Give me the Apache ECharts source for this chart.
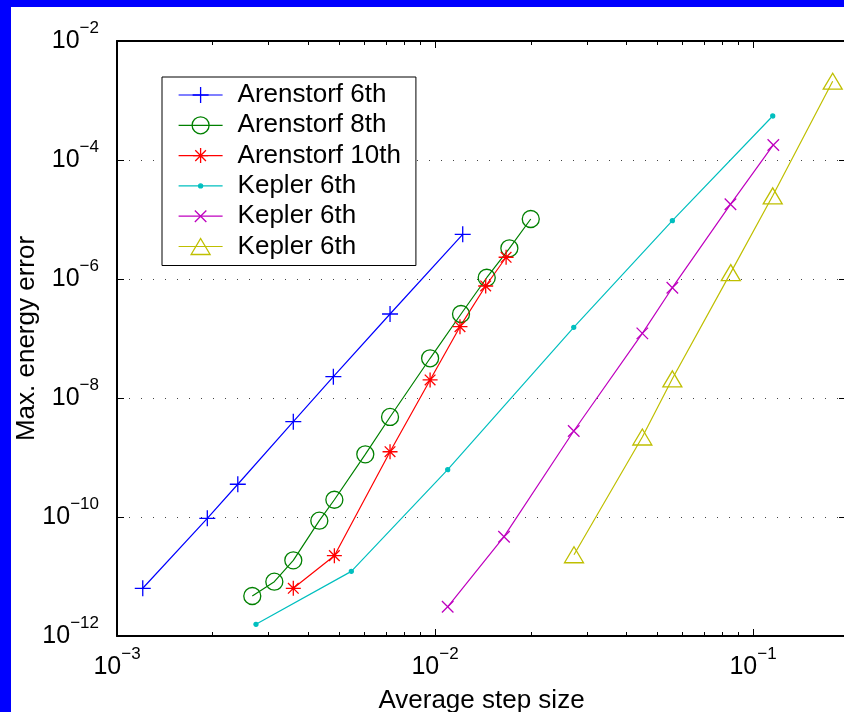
<!DOCTYPE html>
<html>
<head>
<meta charset="utf-8">
<script src="https://cdn.jsdelivr.net/npm/echarts@6/dist/echarts.min.js"></script>
<style>
  html, body { margin: 0; padding: 0; }
  #wrap { position: relative; width: 844px; height: 712px; background: #0000ff; overflow: hidden; }
  #paper { position: absolute; left: 11px; top: 7px; right: 0; bottom: 0; background: #fff; }
  #chart { position: absolute; left: 0; top: 0; width: 844px; height: 712px; }
</style>
</head>
<body>
<div id="wrap">
  <div id="paper"></div>
  <div id="chart"></div>
</div>
<script>
// step size / energy error pairs
const arenstorf6X = [1.205e-3, 1.923e-3, 2.398e-3, 3.584e-3, 4.79e-3, 7.22e-3, 1.222e-2];
const arenstorf6Y = [6.34e-12, 9.5e-11, 3.55e-10, 4.0e-9, 2.28e-8, 2.58e-7, 5.64e-6];

const arenstorf8X = [2.663e-3, 3.124e-3, 3.584e-3, 4.327e-3, 4.825e-3, 6.036e-3, 7.22e-3, 9.65e-3, 1.207e-2, 1.454e-2, 1.713e-2, 2.0e-2];
const arenstorf8Y = [4.7e-12, 8.18e-12, 1.87e-11, 8.67e-11, 1.95e-10, 1.13e-9, 4.8e-9, 4.65e-8, 2.58e-7, 1.05e-6, 3.28e-6, 1.02e-5];

const arenstorf10X = [3.584e-3, 4.825e-3, 7.22e-3, 9.65e-3, 1.198e-2, 1.443e-2, 1.673e-2];
const arenstorf10Y = [6.34e-12, 2.24e-11, 1.25e-9, 2.01e-8, 1.58e-7, 7.63e-7, 2.32e-6];

const keplerDotX = [2.735e-3, 5.455e-3, 1.096e-2, 2.73e-2, 5.575e-2, 0.1153];
const keplerDotY = [1.57e-12, 1.22e-11, 6.24e-10, 1.54e-7, 9.55e-6, 5.49e-4];

const keplerCrossX = [1.096e-2, 1.648e-2, 2.73e-2, 4.486e-2, 5.575e-2, 8.49e-2, 0.1158];
const keplerCrossY = [3.1e-12, 4.67e-11, 2.79e-9, 1.22e-7, 7.14e-7, 1.8e-5, 1.79e-4];

const keplerTriX = [2.735e-2, 4.486e-2, 5.575e-2, 8.51e-2, 0.1153, 0.178];
const keplerTriY = [2.32e-11, 2.21e-9, 2.1e-8, 1.28e-6, 2.5e-5, 2.11e-3];

// legend text (three Kepler entries share one label, so keys carry a suffix)
const seriesNames = ['Arenstorf 6th', 'Arenstorf 8th', 'Arenstorf 10th', 'Kepler 6th|a', 'Kepler 6th|b', 'Kepler 6th|c'];

// ticks
const xMajorTicks = [1e-3, 1e-2, 1e-1];
const xMinorTicks = [2e-3, 3e-3, 4e-3, 5e-3, 6e-3, 7e-3, 8e-3, 9e-3,
  2e-2, 3e-2, 4e-2, 5e-2, 6e-2, 7e-2, 8e-2, 9e-2];

const FONT = "'Liberation Sans', Arial, Helvetica, sans-serif";
const X_MIN = 1e-3, X_MAX = 0.196;
const Y_MIN = 1e-12, Y_MAX = 1e-2;

// marker shapes in a 24x24 box (corner moves keep every box the same size)
const SYM = {
  plus: 'path://M0,0M24,24M2.4,12L21.6,12M12,2.4L12,21.6',
  circle: 'path://M0,0M24,24M1.8,12A10.2,10.2,0,1,0,22.2,12A10.2,10.2,0,1,0,1.8,12Z',
  star: 'path://M0,0M24,24M3,12L21,12M12,3L12,21M5.6,5.6L18.4,18.4M18.4,5.6L5.6,18.4',
  dot: 'path://M0,0M24,24M9.6,12A2.4,2.4,0,1,0,14.4,12A2.4,2.4,0,1,0,9.6,12Z',
  cross: 'path://M0,0M24,24M5.1,5.1L18.9,18.9M18.9,5.1L5.1,18.9',
  tri: 'path://M0,0M24,24M0.6,21.6L23.4,21.6L12,2.4Z'
};

function zip(xs, ys) {
  return xs.map((x, i) => [x, ys[i]]);
}

function powLabel(v) {
  const e = Math.log10(v);
  const r = Math.round(e);
  if (Math.abs(e - r) > 1e-6) return '';
  return '{b|10}{s|' + (r < 0 ? '\u2212' : '') + Math.abs(r) + '}';
}

const labelRich = {
  b: { fontSize: 25, fontFamily: FONT, color: '#000' },
  s: { fontSize: 17, fontFamily: FONT, color: '#000', padding: [0, 0, 26, 0] }
};

function makeSeries(name, xs, ys, color, symbol, filled) {
  return {
    name: name,
    type: 'line',
    xAxisIndex: 0,
    yAxisIndex: 0,
    data: zip(xs, ys),
    symbol: symbol,
    symbolSize: 20,
    showSymbol: true,
    lineStyle: { color: color, width: 1.2 },
    itemStyle: { color: filled ? color : 'rgba(0,0,0,0)', borderColor: color, borderWidth: 1.3 },
    emphasis: { disabled: true },
    animation: false
  };
}

const chart = echarts.init(document.getElementById('chart'), null, { renderer: 'canvas' });

const gridBox = { left: 117, top: 41, width: 729, height: 595, containLabel: false, outerBoundsMode: 'none' };
const blackLine = { show: true, onZero: false, lineStyle: { color: '#000', width: 2 } };

const option = {
  backgroundColor: 'transparent',
  animation: false,
  grid: [Object.assign({}, gridBox), Object.assign({}, gridBox)],
  legend: {
    orient: 'vertical',
    left: 162,
    top: 77,
    padding: [5, 15, 6, 16],
    itemWidth: 44,
    itemHeight: 25,
    itemGap: 4.3,
    backgroundColor: '#fff',
    borderColor: '#000',
    borderWidth: 1,
    borderRadius: 0,
    selectedMode: false,
    data: seriesNames,
    formatter: name => name.split('|')[0],
    textStyle: { fontSize: 26, lineHeight: 26, fontFamily: FONT, color: '#000', padding: [0, 0, 0, 10] },
    lineStyle: { width: 1.2 },
    itemStyle: { borderWidth: 1.3 }
  },
  xAxis: [
    {
      gridIndex: 0, type: 'log', position: 'bottom', min: X_MIN, max: X_MAX,
      name: 'Average step size', nameLocation: 'middle', nameGap: 52, nameMoveOverlap: false,
      nameTextStyle: { fontSize: 26, fontFamily: FONT, color: '#000' },
      axisLine: blackLine,
      axisTick: { show: true, inside: true, length: 7, customValues: xMajorTicks, lineStyle: { color: '#000', width: 1 } },
      axisLabel: { show: true, customValues: xMajorTicks, formatter: powLabel, rich: labelRich, margin: 10 },
      splitLine: { show: false }
    },
    {
      gridIndex: 0, type: 'log', position: 'top', min: X_MIN, max: X_MAX,
      axisLine: blackLine,
      axisTick: { show: true, inside: true, length: 7, customValues: xMajorTicks, lineStyle: { color: '#000', width: 1 } },
      axisLabel: { show: false },
      splitLine: { show: false }
    },
    {
      gridIndex: 1, type: 'log', position: 'bottom', min: X_MIN, max: X_MAX,
      axisLine: { show: false },
      axisTick: { show: true, inside: true, length: 4, customValues: xMinorTicks, lineStyle: { color: '#000', width: 1 } },
      axisLabel: { show: false },
      splitLine: { show: false }
    },
    {
      gridIndex: 1, type: 'log', position: 'top', min: X_MIN, max: X_MAX,
      axisLine: { show: false },
      axisTick: { show: true, inside: true, length: 4, customValues: xMinorTicks, lineStyle: { color: '#000', width: 1 } },
      axisLabel: { show: false },
      splitLine: { show: false }
    }
  ],
  yAxis: [
    {
      gridIndex: 0, type: 'log', logBase: 100, position: 'left', min: Y_MIN, max: Y_MAX,
      name: 'Max. energy error', nameLocation: 'middle', nameGap: 77, nameMoveOverlap: false,
      nameTextStyle: { fontSize: 26, fontFamily: FONT, color: '#000' },
      axisLine: blackLine,
      axisTick: { show: true, inside: true, length: 7, lineStyle: { color: '#000', width: 1 } },
      axisLabel: { show: true, formatter: powLabel, rich: labelRich, margin: 18 },
      splitLine: { show: true, lineStyle: { color: '#444', width: 1, type: [1, 11] } }
    },
    {
      gridIndex: 0, type: 'log', logBase: 100, position: 'right', min: Y_MIN, max: Y_MAX,
      axisLine: { show: false },
      axisTick: { show: true, inside: true, length: 7, lineStyle: { color: '#000', width: 1 } },
      axisLabel: { show: false },
      splitLine: { show: false }
    },
    {
      gridIndex: 1, type: 'log', logBase: 100, min: Y_MIN, max: Y_MAX, show: false
    }
  ],
  series: [
    makeSeries(seriesNames[0], arenstorf6X, arenstorf6Y, '#0000ff', SYM.plus, false),
    makeSeries(seriesNames[1], arenstorf8X, arenstorf8Y, '#008000', SYM.circle, false),
    makeSeries(seriesNames[2], arenstorf10X, arenstorf10Y, '#ff0000', SYM.star, false),
    makeSeries(seriesNames[3], keplerDotX, keplerDotY, '#00bfbf', SYM.dot, true),
    makeSeries(seriesNames[4], keplerCrossX, keplerCrossY, '#bf00bf', SYM.cross, false),
    makeSeries(seriesNames[5], keplerTriX, keplerTriY, '#bfbf00', SYM.tri, false)
  ]
};

chart.setOption(option);
</script>
</body>
</html>
